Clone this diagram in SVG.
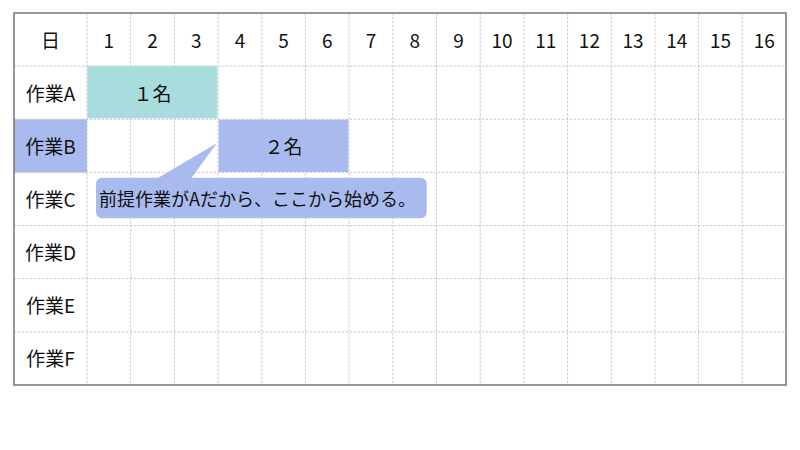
<svg xmlns="http://www.w3.org/2000/svg" width="800" height="450" viewBox="0 0 800 450">
<style>
.t{font-family:"Noto Sans CJK JP","Noto Sans",sans-serif;font-size:19px;fill:#111;text-anchor:middle;dominant-baseline:central}
.g{stroke:#bdbdbd;stroke-width:0.8;stroke-dasharray:2.5 1.5;fill:none}
.teal{fill:#a9dcdc}
.blue{fill:#a9bbee}
</style>
<rect width="800" height="450" fill="#fff"/>
<g id="fills">
<rect class="blue" x="14" y="119.3" width="73" height="53.1"/>
</g>
<g id="grid" class="g">
<path d="M87 13V385M130.7 13V385M174.4 13V385M218.1 13V385M261.8 13V385M305.4 13V385M349.1 13V385M392.8 13V385M436.5 13V385M480.2 13V385M523.9 13V385M567.6 13V385M611.3 13V385M654.9 13V385M698.6 13V385M742.3 13V385"/>
<path d="M14 66.1H786M14 119.3H786M14 172.4H786M14 225.6H786M14 278.7H786M14 331.9H786"/>
</g>
<rect id="border" x="14" y="13" width="772" height="372" fill="none" stroke="#777" stroke-width="1.5"/>
<g id="header">
<text class="t" x="50.5" y="39.6">日</text>
<text class="t" x="108.8" y="39.6">1</text>
<text class="t" x="152.5" y="39.6">2</text>
<text class="t" x="196.2" y="39.6">3</text>
<text class="t" x="239.9" y="39.6">4</text>
<text class="t" x="283.6" y="39.6">5</text>
<text class="t" x="327.3" y="39.6">6</text>
<text class="t" x="371" y="39.6">7</text>
<text class="t" x="414.7" y="39.6">8</text>
<text class="t" x="458.4" y="39.6">9</text>
<text class="t" x="502" y="39.6">10</text>
<text class="t" x="545.7" y="39.6">11</text>
<text class="t" x="589.4" y="39.6">12</text>
<text class="t" x="633.1" y="39.6">13</text>
<text class="t" x="676.8" y="39.6">14</text>
<text class="t" x="720.5" y="39.6">15</text>
<text class="t" x="764.2" y="39.6">16</text>
</g>
<g id="rows">
<text class="t" x="50.5" y="92.2">作業A</text>
<text class="t" x="50.5" y="145.4">作業B</text>
<text class="t" x="50.5" y="198.5">作業C</text>
<text class="t" x="50.5" y="251.6">作業D</text>
<text class="t" x="50.5" y="304.8">作業E</text>
<text class="t" x="50.5" y="357.9">作業F</text>
</g>
<g id="taskA">
<rect class="teal" x="87.3" y="66.1" width="130" height="52.3"/>
<text class="t" x="152.5" y="92">１名</text>
</g>
<g id="taskB">
<rect class="blue" x="218.6" y="119.6" width="129.8" height="52.4"/>
<text class="t" x="283.6" y="145">２名</text>
</g>
<g id="callout">
<path class="blue" d="M102 177.7H420.7A6 6 0 0 1 426.7 183.7V212.3A6 6 0 0 1 420.7 218.3H102A6 6 0 0 1 96 212.3V183.7A6 6 0 0 1 102 177.7Z"/>
<path class="blue" d="M157 178.5L216.8 143.3L191 178.5Z"/>
<text class="t" x="257.5" y="197.5" style="font-size:18px">前提作業がAだから、ここから始める。</text>
</g>
</svg>
